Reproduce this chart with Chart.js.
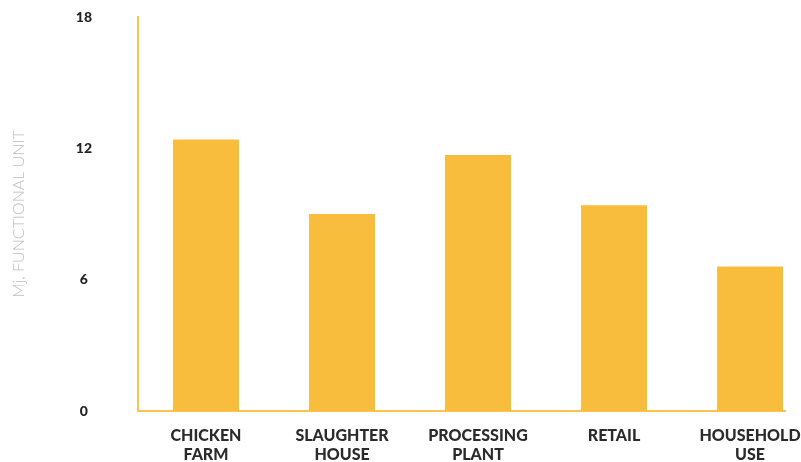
<!DOCTYPE html>
<html>
<head>
<meta charset="utf-8">
<script src="https://cdn.jsdelivr.net/npm/chart.js@4"></script>
<style>
  html, body { margin: 0; padding: 0; background: #fff; }
  #wrap { width: 801px; height: 462px; }
</style>
</head>
<body>
<div id="wrap"><canvas id="chart1"></canvas></div>
<script>
const stages = [['CHICKEN', 'FARM'], ['SLAUGHTER', 'HOUSE'], ['PROCESSING', 'PLANT'], ['RETAIL'], ['HOUSEHOLD', 'USE']];
const energy = [12.4, 9.0, 11.7, 9.4, 6.6];
const yTicks = [0, 6, 12, 18];

const orange = '#F9BD3D';
const lineOrange = '#FBC450';

const ctx = document.getElementById('chart1').getContext('2d');

new Chart(ctx, {
    type: 'bar',
    data: {
        datasets: [{
            label: 'Mj, functional unit',
            data: energy.map((v, i) => ({ x: i, y: v })),
            backgroundColor: orange,
            borderWidth: 0,
            categoryPercentage: 1,
            barPercentage: 0.485
        }]
    },
    options: {
        responsive: true,
        maintainAspectRatio: false,
        animation: false,
        layout: {
            padding: { top: 17, right: 16, bottom: 0, left: 0 }
        },
        plugins: {
            legend: { display: false },
            tooltip: { enabled: false }
        },
        scales: {
            x: {
                type: 'linear',
                offset: false,
                min: -0.5,
                max: 4.257,
                grid: { display: false },
                border: { color: lineOrange, width: 2 },
                afterBuildTicks: axis => {
                    axis.ticks = stages.map((s, i) => ({ value: i }));
                },
                afterFit: axis => {
                    axis.height = 51;
                    axis.paddingLeft = 0;
                    axis.paddingRight = 0;
                },
                ticks: {
                    autoSkip: false,
                    maxRotation: 0,
                    padding: 8,
                    color: '#2b2b2b',
                    font: { family: 'Lato', size: 16, weight: 900, lineHeight: 1.15 },
                    callback: value => stages[value]
                }
            },
            y: {
                min: 0,
                max: 18,
                grid: { display: false },
                border: { color: lineOrange, width: 2 },
                afterBuildTicks: axis => {
                    axis.ticks = yTicks.map(v => ({ value: v }));
                },
                afterFit: axis => {
                    axis.width = 138;
                    axis.paddingTop = 0;
                    axis.paddingBottom = 0;
                },
                ticks: {
                    crossAlign: 'center',
                    padding: 38,
                    color: '#222',
                    font: { family: 'Lato', size: 14, weight: 900 }
                },
                title: {
                    display: true,
                    text: 'Mj, FUNCTIONAL UNIT',
                    color: '#bdbdbd',
                    padding: { top: 9, bottom: 0 },
                    font: { family: 'Lato', size: 16, weight: 300 }
                }
            }
        }
    }
});
</script>
</body>
</html>
